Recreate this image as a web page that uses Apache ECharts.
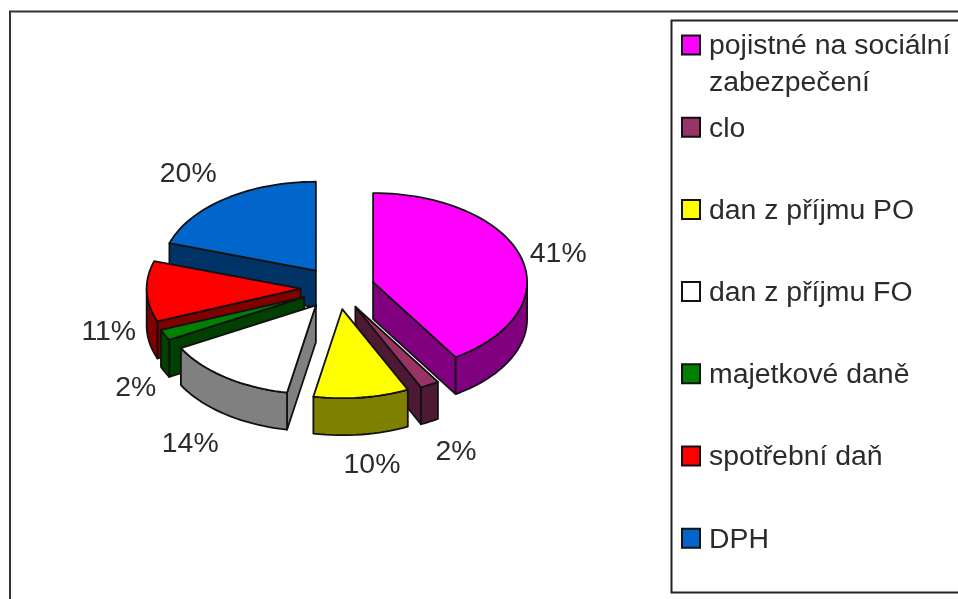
<!DOCTYPE html>
<html>
<head>
<meta charset="utf-8">
<style>
  html, body { margin: 0; padding: 0; background: #fff; }
  #chart { width: 958px; height: 599px; }
</style>
<script src="https://cdn.jsdelivr.net/npm/echarts@6/dist/echarts.min.js"></script>
</head>
<body>
<div id="chart"></div>
<script>
  var categories = ['pojistné na sociální\nzabezpečení', 'clo', 'dan z příjmu PO', 'dan z příjmu FO', 'majetkové daně', 'spotřební daň', 'DPH'];
  var shares = [41, 2, 10, 14, 2, 11, 20];
  var topColors = ['#ff00ff', '#993366', '#ffff00', '#ffffff', '#008000', '#ff0000', '#0066cc'];
  var wallColors = ['#800080', '#4d1933', '#808000', '#808080', '#004000', '#800000', '#003366'];
  // small hand corrections for the percent labels, same order as shares
  var labelNudge = [[0, 5], [0, 4], [-3, 1], [-6, 6], [7, 3], [0, 3], [-8, 0]];

  var FONT = '28.4px "Liberation Sans", Arial, sans-serif';
  var TEXT_COLOR = '#2b2b2b';
  var LINE = '#111';
  // pie geometry: an ellipse standing in for the tilted 3d pie
  var cx = 337.6, cy = 288, rx = 154, ry = 89, depth = 37, explode = 0.24;

  var total = shares.reduce(function (a, b) { return a + b; }, 0);
  var slices = [];
  var acc = 0;
  shares.forEach(function (v, i) {
    var start = acc / total * Math.PI * 2;
    acc += v;
    var end = acc / total * Math.PI * 2;
    var mid = (start + end) / 2;
    slices.push({
      index: i, start: start, end: end, mid: mid,
      x: cx + rx * explode * Math.sin(mid),
      y: cy - ry * explode * Math.cos(mid)
    });
  });

  // back to front, the painter has to draw the far slices first
  var paintOrder = slices.slice().sort(function (a, b) {
    return Math.cos(b.mid) - Math.cos(a.mid);
  }).map(function (s) { return s.index; });

  function rimPoint(s, a, drop) {
    return [s.x + rx * Math.sin(a), s.y - ry * Math.cos(a) + (drop || 0)];
  }

  function arcPoints(s, from, to, drop) {
    var n = Math.max(2, Math.ceil((to - from) / 0.04));
    var pts = [];
    for (var k = 0; k <= n; k++) {
      pts.push(rimPoint(s, from + (to - from) * k / n, drop));
    }
    return pts;
  }

  function face(points, fill) {
    return {
      type: 'polygon',
      shape: { points: points },
      style: { fill: fill, stroke: LINE, lineWidth: 1.8, lineJoin: 'round' }
    };
  }

  function radialWall(s, a, fill) {
    var p = rimPoint(s, a);
    return face([[s.x, s.y], p, [p[0], p[1] + depth], [s.x, s.y + depth]], fill);
  }

  function renderSlice(params, api) {
    var s = slices[api.value(0)];
    var i = s.index;
    var children = [];
    var EPS = 1e-6;

    // inner walls, only those turned towards the viewer
    if (Math.sin(s.start) < -EPS) children.push(radialWall(s, s.start, wallColors[i]));
    if (Math.sin(s.end) > EPS) children.push(radialWall(s, s.end, wallColors[i]));

    // outer wall for the front half of the ellipse
    var from = Math.max(s.start, Math.PI / 2);
    var to = Math.min(s.end, Math.PI * 1.5);
    if (to > from) {
      var upper = arcPoints(s, from, to, 0);
      var lower = arcPoints(s, from, to, depth).reverse();
      children.push(face(upper.concat(lower), wallColors[i]));
    }

    // top
    children.push(face([[s.x, s.y]].concat(arcPoints(s, s.start, s.end, 0)), topColors[i]));

    // percent label, pushed out from the rim
    var sn = Math.sin(s.mid), cs = Math.cos(s.mid);
    var rim = rimPoint(s, s.mid, cs < 0 ? depth : 0);
    children.push({
      type: 'text',
      z2: 10,
      style: {
        text: shares[i] + '%',
        x: rim[0] + 38 * (sn < 0 ? -1 : 1) * Math.sqrt(Math.abs(sn)) + labelNudge[i][0],
        y: rim[1] - 30 * cs + labelNudge[i][1],
        font: FONT,
        fill: TEXT_COLOR,
        align: 'center',
        verticalAlign: 'middle'
      }
    });
    return { type: 'group', children: children };
  }

  // legend rows sit at a fixed pitch, the first one wraps on to a second line
  var legendItems = [];
  categories.forEach(function (name, i) {
    var rowY = 45 + 82.2 * i;
    legendItems.push({
      type: 'rect',
      shape: { x: 682, y: rowY - 9.5, width: 18, height: 19 },
      style: { fill: topColors[i], stroke: LINE, lineWidth: 2 }
    });
    legendItems.push({
      type: 'text',
      style: {
        text: name,
        x: 709,
        y: rowY - 17,
        font: FONT,
        lineHeight: 37,
        fill: TEXT_COLOR,
        align: 'left',
        verticalAlign: 'top'
      }
    });
  });

  var option = {
    animation: false,
    backgroundColor: '#fff',
    graphic: {
      elements: [{
        type: 'rect',
        shape: { x: 10, y: 11.5, width: 1000, height: 700 },
        style: { fill: 'none', stroke: '#333', lineWidth: 2 }
      }, {
        type: 'rect',
        shape: { x: 671.5, y: 20.5, width: 400, height: 572 },
        style: { fill: '#fff', stroke: '#222', lineWidth: 2 }
      }].concat(legendItems)
    },
    series: [{
      type: 'custom',
      coordinateSystem: 'none',
      renderItem: renderSlice,
      data: paintOrder.map(function (i) { return [i]; }),
      silent: true
    }]
  };

  var myChart = echarts.init(document.getElementById('chart'));
  myChart.setOption(option);
</script>
</body>
</html>
